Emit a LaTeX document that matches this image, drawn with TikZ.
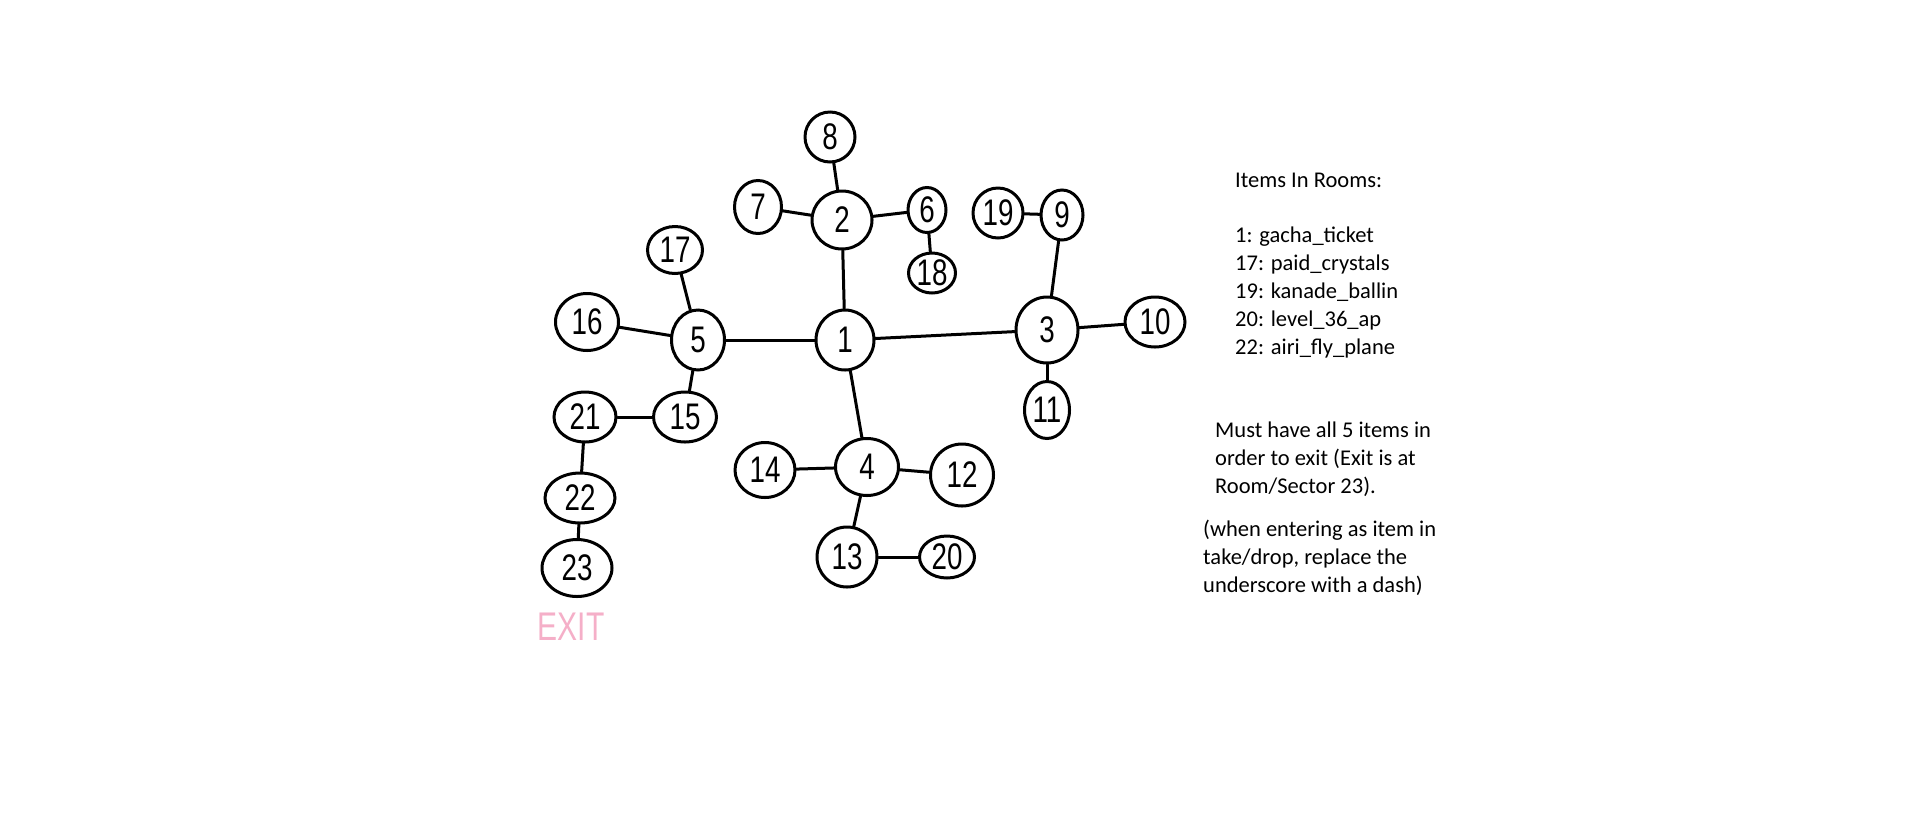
\documentclass[tikz,border=0pt]{standalone}
\usepackage{fontspec}
\setmainfont{Carlito}
\newfontfamily\digitfont[FakeStretch=0.75]{Liberation Sans}
\usetikzlibrary{shapes.geometric}
\definecolor{exitpink}{RGB}{245,175,200}
\begin{document}
\begin{tikzpicture}[x=1pt,y=-1pt,
  room/.style={draw=black, line width=3pt, ellipse, inner sep=0pt,
    font=\digitfont\fontsize{37}{37}\selectfont},
  link/.style={draw=black, line width=3pt, line cap=round},
  info/.style={anchor=base west, align=left, inner sep=0pt,
    font=\fontsize{22.5}{27.8}\selectfont}]
\useasboundingbox[fill=white] (0,0) rectangle (1913,823);
% rooms: name, position, width, height
\node[room, minimum width=50pt, minimum height=50pt] (r8)  at (830,137) {8};
\node[room, minimum width=60pt, minimum height=58pt] (r2)  at (842,220) {2};
\node[room, minimum width=47pt, minimum height=53pt] (r7)  at (758,207) {7};
\node[room, minimum width=38pt, minimum height=45pt] (r6)  at (927,210) {6};
\node[room, minimum width=47pt, minimum height=40pt] (r18) at (932,273) {18};
\node[room, minimum width=50pt, minimum height=50pt] (r19) at (998,213) {19};
\node[room, minimum width=42pt, minimum height=50pt] (r9)  at (1062,215) {9};
\node[room, minimum width=55pt, minimum height=47pt] (r17) at (675,250) {17};
\node[room, minimum width=63pt, minimum height=57pt] (r16) at (587,322) {16};
\node[room, minimum width=53pt, minimum height=60pt] (r5)  at (698,340) {5};
\node[room, minimum width=58pt, minimum height=60pt] (r1)  at (845,340) {1};
\node[room, minimum width=62pt, minimum height=66pt] (r3)  at (1047,330) {3};
\node[room, minimum width=60pt, minimum height=50pt] (r10) at (1155,322) {10};
\node[room, minimum width=45pt, minimum height=57pt] (r11) at (1047,410) {11};
\node[room, minimum width=63pt, minimum height=50pt] (r15) at (685,417) {15};
\node[room, minimum width=62pt, minimum height=50pt] (r21) at (585,417) {21};
\node[room, minimum width=70pt, minimum height=50pt] (r22) at (580,498) {22};
\node[room, minimum width=70pt, minimum height=57pt] (r23) at (577,568) {23};
\node[room, minimum width=60pt, minimum height=55pt] (r14) at (765,470) {14};
\node[room, minimum width=63pt, minimum height=57pt] (r4)  at (867,467) {4};
\node[room, minimum width=63pt, minimum height=62pt] (r12) at (962,475) {12};
\node[room, minimum width=60pt, minimum height=60pt] (r13) at (847,557) {13};
\node[room, minimum width=55pt, minimum height=42pt] (r20) at (947,557) {20};
% exit label
\node[text=exitpink, inner sep=0pt, font=\digitfont\fontsize{40}{40}\selectfont] (exit) at (571,627) {EXIT};
% connectors
\draw[link] (r1) -- (r2);
\draw[link] (r1) -- (r5);
\draw[link] (r1) -- (r3);
\draw[link] (r1) -- (r4);
\draw[link] (r2) -- (r8);
\draw[link] (r2) -- (r7);
\draw[link] (r2) -- (r6);
\draw[link] (r6) -- (r18);
\draw[link] (r5) -- (r17);
\draw[link] (r5) -- (r16);
\draw[link] (r5) -- (r15);
\draw[link] (r15) -- (r21);
\draw[link] (r21) -- (r22);
\draw[link] (r22) -- (r23);
\draw[link] (r4) -- (r14);
\draw[link] (r4) -- (r12);
\draw[link] (r4) -- (r13);
\draw[link] (r13) -- (r20);
\draw[link] (r3) -- (r9);
\draw[link] (r9) -- (r19);
\draw[link] (r3) -- (r10);
\draw[link] (r3) -- (r11);
% info text (base anchor = baseline of the last line)
\node[info] (items) at (1235,354) {Items In Rooms:\\[27.8pt]1: gacha\_ticket\\17: paid\_crystals\\19: kanade\_ballin\\20: level\_36\_ap\\22: airi\_fly\_plane};
\node[info] (must) at (1215,493) {Must have all 5 items in\\order to exit (Exit is at\\Room/Sector 23).};
\node[info] (note) at (1203,592) {(when entering as item in\\take/drop, replace the\\underscore with a dash)};
\end{tikzpicture}
\end{document}
